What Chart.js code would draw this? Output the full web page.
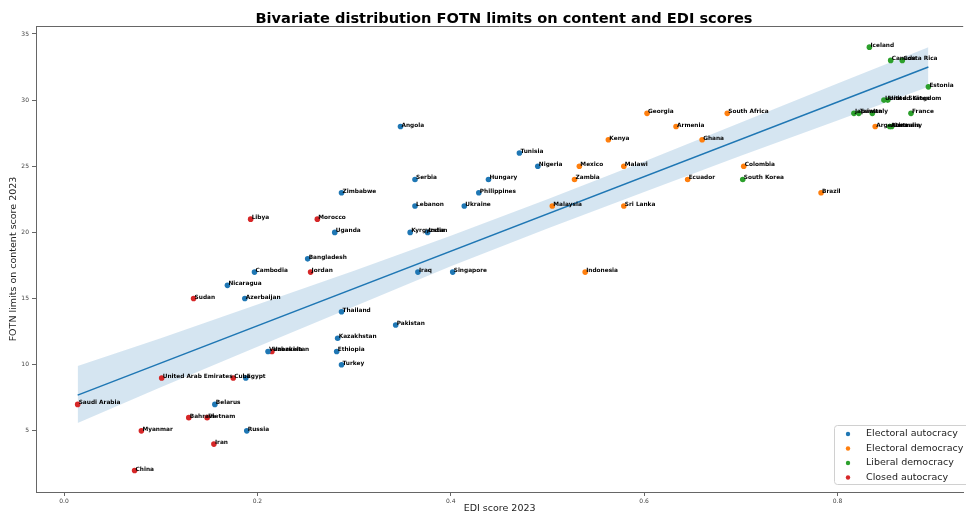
<!DOCTYPE html>
<html>
<head>
<meta charset="utf-8">
<script src="https://cdn.jsdelivr.net/npm/chart.js@4"></script>
<style>
html, body { margin: 0; padding: 0; background: #fff; }
</style>
</head>
<body>
<canvas id="chartCanvas" width="966" height="514"></canvas>
<script>
const canvas = document.getElementById('chartCanvas');
const c = canvas.getContext('2d');

// Electoral autocracy
const eaNames = ['Angola','Tunisia','Nigeria','Serbia','Hungary','Zimbabwe','Philippines','Lebanon','Ukraine','Uganda','Kyrgyzstan','India','Bangladesh','Cambodia','Iraq','Singapore','Nicaragua','Azerbaijan','Thailand','Pakistan','Kazakhstan','Ethiopia','Venezuela','Turkey','Egypt','Belarus','Russia'];
const eaEdi = [0.348,0.471,0.490,0.363,0.439,0.287,0.429,0.363,0.414,0.280,0.358,0.376,0.252,0.197,0.366,0.402,0.169,0.187,0.287,0.343,0.283,0.282,0.211,0.287,0.188,0.156,0.189];
const eaFotn = [28,26,25,24,24,23,23,22,22,20,20,20,18,17,17,17,16,15,14,13,12,11,11,10,9,7,5];

// Electoral democracy
const edNames = ['Georgia','South Africa','Armenia','Kenya','Ghana','Mexico','Malawi','Colombia','Zambia','Ecuador','Brazil','Malaysia','Sri Lanka','Indonesia','Argentina'];
const edEdi = [0.603,0.686,0.633,0.563,0.660,0.533,0.579,0.703,0.528,0.645,0.783,0.505,0.579,0.539,0.839];
const edFotn = [29,29,28,27,27,25,25,25,24,24,23,22,22,17,28];

// Liberal democracy
const ldNames = ['Iceland','Canada','Costa Rica','Estonia','United States','United Kingdom','Japan','Taiwan','Italy','France','Australia','Germany','South Korea'];
const ldEdi = [0.833,0.855,0.867,0.894,0.848,0.852,0.817,0.822,0.836,0.876,0.854,0.856,0.702];
const ldFotn = [34,33,33,31,30,30,29,29,29,29,28,28,24];

// Closed autocracy
const caNames = ['Libya','Morocco','Jordan','Sudan','Uzbekistan','United Arab Emirates','Cuba','Saudi Arabia','Bahrain','Vietnam','Myanmar','Iran','China'];
const caEdi = [0.193,0.262,0.255,0.134,0.215,0.101,0.175,0.0141,0.129,0.148,0.080,0.155,0.073];
const caFotn = [21,21,17,15,11,9,9,7,6,6,5,4,2];

// regression line and its confidence band
const fitX = [0.0141, 0.894];
const fitY = [7.7, 32.5];
const bandX = [0.0141, 0.1, 0.2, 0.3, 0.4, 0.5, 0.6, 0.7, 0.8, 0.894];
const bandLow = [5.6, 8.3, 11.35, 14.4, 17.45, 20.3, 23.05, 25.8, 28.45, 31.0];
const bandHigh = [9.9, 12.0, 14.55, 17.1, 19.75, 22.5, 25.35, 28.3, 31.25, 34.0];

const xTicks = [0.0, 0.2, 0.4, 0.6, 0.8];
const yTicks = [5, 10, 15, 20, 25, 30, 35];

const groups = [
    { label: 'Electoral autocracy', names: eaNames, x: eaEdi, y: eaFotn, color: '#1f77b4' },
    { label: 'Electoral democracy', names: edNames, x: edEdi, y: edFotn, color: '#ff7f0e' },
    { label: 'Liberal democracy', names: ldNames, x: ldEdi, y: ldFotn, color: '#2ca02c' },
    { label: 'Closed autocracy', names: caNames, x: caEdi, y: caFotn, color: '#d62728' }
];

const toPoints = (xs, ys) => xs.map((v, i) => ({ x: v, y: ys[i] }));

const datasets = [];
groups.forEach(g => {
    datasets.push({
        label: g.label,
        names: g.names,
        data: toPoints(g.x, g.y),
        backgroundColor: g.color,
        borderWidth: 0,
        pointRadius: 2.8,
        pointHoverRadius: 2.8
    });
});
datasets.push({
    label: 'fit',
    data: toPoints(fitX, fitY),
    showLine: true,
    borderColor: '#1f77b4',
    borderWidth: 1.5,
    pointRadius: 0,
    fill: false
});
const lowIndex = datasets.length;
datasets.push({
    label: 'ci low',
    data: toPoints(bandX, bandLow),
    showLine: true,
    borderColor: 'rgba(0,0,0,0)',
    borderWidth: 0,
    pointRadius: 0,
    fill: false
});
datasets.push({
    label: 'ci high',
    data: toPoints(bandX, bandHigh),
    showLine: true,
    borderColor: 'rgba(0,0,0,0)',
    borderWidth: 0,
    pointRadius: 0,
    backgroundColor: 'rgba(31,119,180,0.19)',
    fill: { target: lowIndex }
});

const extras = {
    id: 'extras',
    afterDatasetsDraw(chart) {
        const ctx = chart.ctx;
        ctx.save();
        ctx.font = 'bold 5.8px "DejaVu Sans"';
        ctx.fillStyle = '#000';
        ctx.textAlign = 'left';
        ctx.textBaseline = 'middle';
        chart.data.datasets.forEach((ds, i) => {
            if (!ds.names) return;
            chart.getDatasetMeta(i).data.forEach((pt, j) => {
                ctx.fillText(ds.names[j], pt.x + 1, pt.y - 1.5);
            });
        });
        ctx.restore();
    },
    afterDraw(chart) {
        const ctx = chart.ctx;
        const a = chart.chartArea;
        ctx.save();
        // top frame line
        ctx.strokeStyle = '#666';
        ctx.lineWidth = 1;
        ctx.beginPath();
        ctx.moveTo(a.left, a.top + 0.5);
        ctx.lineTo(a.right, a.top + 0.5);
        ctx.stroke();

        // title
        ctx.fillStyle = '#000';
        ctx.font = 'bold 14.6px "DejaVu Sans"';
        ctx.textAlign = 'center';
        ctx.textBaseline = 'alphabetic';
        ctx.fillText('Bivariate distribution FOTN limits on content and EDI scores', 504, 23);

        // legend box
        const bx = 834, by = 425, bw = 140, bh = 59;
        ctx.beginPath();
        ctx.roundRect(bx + 0.5, by + 0.5, bw, bh, 3);
        ctx.fillStyle = 'rgba(255,255,255,0.85)';
        ctx.fill();
        ctx.strokeStyle = '#d0d0d0';
        ctx.stroke();
        ctx.font = '9.5px "DejaVu Sans"';
        ctx.textAlign = 'left';
        ctx.textBaseline = 'middle';
        groups.forEach((g, i) => {
            const ry = 434 + i * 14.5;
            ctx.beginPath();
            ctx.arc(848, ry, 2.2, 0, Math.PI * 2);
            ctx.fillStyle = g.color;
            ctx.fill();
            ctx.fillStyle = '#222';
            ctx.fillText(g.label, 866, ry);
        });
        ctx.restore();
    }
};

const axisFont = { family: 'DejaVu Sans', size: 9.5 };
const tickFont = { family: 'DejaVu Sans', size: 6 };

new Chart(c, {
    type: 'scatter',
    data: { datasets: datasets },
    options: {
        responsive: false,
        animation: false,
        events: [],
        layout: { padding: { top: 26, left: 0, right: 0, bottom: 0 } },
        plugins: {
            legend: { display: false },
            tooltip: { enabled: false },
            title: { display: false }
        },
        scales: {
            x: {
                type: 'linear',
                min: -0.029,
                max: 0.930,
                afterBuildTicks: s => { s.ticks = xTicks.map(v => ({ value: v })); },
                afterFit: s => { s.height = 22; },
                grid: { drawOnChartArea: false, tickLength: 4, color: '#666' },
                border: { color: '#666', width: 1 },
                ticks: {
                    font: tickFont, color: '#444', padding: 2,
                    maxRotation: 0, autoSkip: false,
                    callback: v => v.toFixed(1)
                },
                title: { display: true, text: 'EDI score 2023', font: axisFont, color: '#222', padding: 0 }
            },
            y: {
                type: 'linear',
                min: 0.38,
                max: 35.6,
                afterBuildTicks: s => { s.ticks = yTicks.map(v => ({ value: v })); },
                afterFit: s => { s.width = 36; },
                grid: { drawOnChartArea: false, tickLength: 4, color: '#666' },
                border: { color: '#666', width: 1 },
                ticks: {
                    font: tickFont, color: '#444', padding: 3,
                    callback: v => String(v)
                },
                title: { display: true, text: 'FOTN limits on content score 2023', font: axisFont, color: '#222', padding: { top: 8, bottom: 0 } }
            }
        }
    },
    plugins: [extras]
});
</script>
</body>
</html>
